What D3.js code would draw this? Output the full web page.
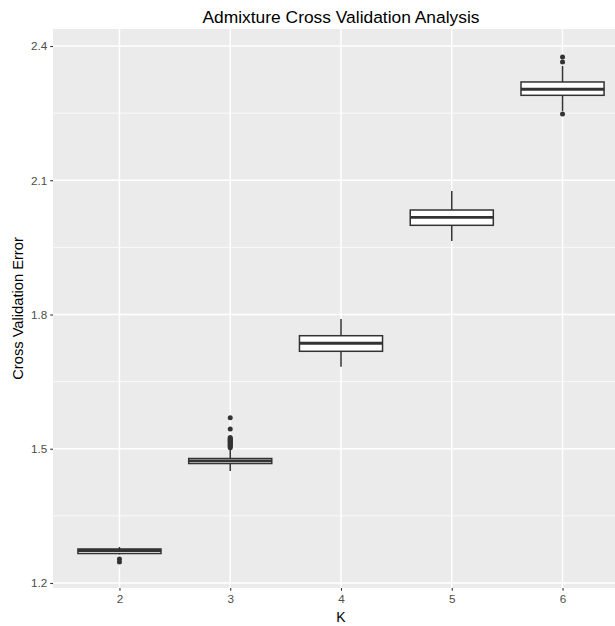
<!DOCTYPE html>
<html>
<head>
<meta charset="utf-8">
<script src="https://cdn.jsdelivr.net/npm/d3@7"></script>
<style>
  html, body { margin: 0; padding: 0; background: #ffffff; }
  svg { display: block; font-family: "Liberation Sans", Arial, sans-serif; }
</style>
</head>
<body>
<svg id="chart" width="615" height="626"></svg>
<script>
// Number of ancestral populations tested
const kValues = ["2", "3", "4", "5", "6"];

// Five-number summaries of the cross-validation error for each K
const lowerWhisker = [1.2637, 1.4503, 1.6834, 1.9642, 2.2547];
const lowerQuartile = [1.2659, 1.4670, 1.7178, 1.9993, 2.2898];
const medians = [1.2726, 1.4731, 1.7357, 2.0172, 2.3033];
const upperQuartile = [1.2760, 1.4782, 1.7526, 2.0335, 2.3196];
const upperWhisker = [1.2804, 1.4972, 1.7900, 2.0760, 2.3553];

// Runs falling outside the whiskers
const outliersK2 = [1.2536, 1.2469];
const outliersK3 = [1.502, 1.505, 1.507, 1.509, 1.511, 1.513, 1.515, 1.517,
                    1.519, 1.521, 1.523, 1.525, 1.544, 1.569];
const outliersK4 = [];
const outliersK5 = [];
const outliersK6 = [2.3754, 2.3642, 2.2480];
const outlierSets = [outliersK2, outliersK3, outliersK4, outliersK5, outliersK6];

// Axis ticks
const yMajorTicks = [1.2, 1.5, 1.8, 2.1, 2.4];
const yMinorTicks = [1.35, 1.65, 1.95, 2.25];

const svg = d3.select("#chart");

const panel = { left: 53, right: 629, top: 29, bottom: 588 };

const x = d3.scalePoint()
  .domain(kValues)
  .range([panel.left, panel.right])
  .padding(0.6);

// Vertical scale: tick 1.2 and 2.4 placed inside the panel, panel edges
// then follow from the same mapping
const y = d3.scaleLinear()
  .domain([1.2, 2.4])
  .range([583, 46]);

// Panel background
svg.append("rect")
  .attr("x", panel.left).attr("y", panel.top)
  .attr("width", panel.right - panel.left)
  .attr("height", panel.bottom - panel.top)
  .attr("fill", "#ebebeb");

// Grid lines
const grid = svg.append("g");
grid.selectAll(".minor-y").data(yMinorTicks).join("line")
  .attr("x1", panel.left).attr("x2", panel.right)
  .attr("y1", d => y(d)).attr("y2", d => y(d))
  .attr("stroke", "#ffffff").attr("stroke-width", 0.75);
grid.selectAll(".major-y").data(yMajorTicks).join("line")
  .attr("x1", panel.left).attr("x2", panel.right)
  .attr("y1", d => y(d)).attr("y2", d => y(d))
  .attr("stroke", "#ffffff").attr("stroke-width", 1.5);
grid.selectAll(".major-x").data(kValues).join("line")
  .attr("x1", d => x(d)).attr("x2", d => x(d))
  .attr("y1", panel.top).attr("y2", panel.bottom)
  .attr("stroke", "#ffffff").attr("stroke-width", 1.5);

// Boxplots
const boxWidth = x.step() * 0.75;
const boxes = kValues.map((k, i) => ({
  k,
  lw: lowerWhisker[i], q1: lowerQuartile[i], med: medians[i],
  q3: upperQuartile[i], uw: upperWhisker[i], out: outlierSets[i]
}));

const boxG = svg.append("g").selectAll("g").data(boxes).join("g");
const ink = "#333333";

boxG.append("line")
  .attr("x1", d => x(d.k)).attr("x2", d => x(d.k))
  .attr("y1", d => y(d.q3)).attr("y2", d => y(d.uw))
  .attr("stroke", ink).attr("stroke-width", 1.5);
boxG.append("line")
  .attr("x1", d => x(d.k)).attr("x2", d => x(d.k))
  .attr("y1", d => y(d.q1)).attr("y2", d => y(d.lw))
  .attr("stroke", ink).attr("stroke-width", 1.5);
boxG.append("rect")
  .attr("x", d => x(d.k) - boxWidth / 2)
  .attr("width", boxWidth)
  .attr("y", d => y(d.q3))
  .attr("height", d => y(d.q1) - y(d.q3))
  .attr("fill", "#ffffff")
  .attr("stroke", ink).attr("stroke-width", 1.5);
boxG.append("line")
  .attr("x1", d => x(d.k) - boxWidth / 2).attr("x2", d => x(d.k) + boxWidth / 2)
  .attr("y1", d => y(d.med)).attr("y2", d => y(d.med))
  .attr("stroke", ink).attr("stroke-width", 2.8);
boxG.selectAll("circle").data(d => d.out.map(v => ({ k: d.k, v }))).join("circle")
  .attr("cx", d => x(d.k)).attr("cy", d => y(d.v))
  .attr("r", 2.5).attr("fill", ink);

// Axes
const xAxis = svg.append("g")
  .attr("transform", `translate(0,${panel.bottom})`)
  .call(d3.axisBottom(x).tickSize(2.75).tickPadding(4));
const yAxis = svg.append("g")
  .attr("transform", `translate(${panel.left},0)`)
  .call(d3.axisLeft(y).tickValues(yMajorTicks).tickFormat(d3.format(".1f"))
    .tickSize(2.75).tickPadding(3));
[xAxis, yAxis].forEach(a => {
  a.select(".domain").remove();
  a.selectAll(".tick line").attr("stroke", ink).attr("stroke-width", 1.1);
  a.selectAll(".tick text").attr("fill", "#4d4d4d")
    .style("font-size", "11.7px").style("font-family", "'Liberation Sans', Arial, sans-serif");
});

// Titles
const cx = (panel.left + panel.right) / 2;
svg.append("text")
  .attr("x", cx).attr("y", 23)
  .attr("text-anchor", "middle")
  .style("font-size", "17.4px")
  .attr("fill", "#000000")
  .text("Admixture Cross Validation Analysis");
svg.append("text")
  .attr("x", cx).attr("y", 622)
  .attr("text-anchor", "middle")
  .style("font-size", "14px")
  .attr("fill", "#000000")
  .text("K");
svg.append("text")
  .attr("transform", `translate(23,${(panel.top + panel.bottom) / 2}) rotate(-90)`)
  .attr("text-anchor", "middle")
  .style("font-size", "14.7px")
  .attr("fill", "#000000")
  .text("Cross Validation Error");
</script>
</body>
</html>
